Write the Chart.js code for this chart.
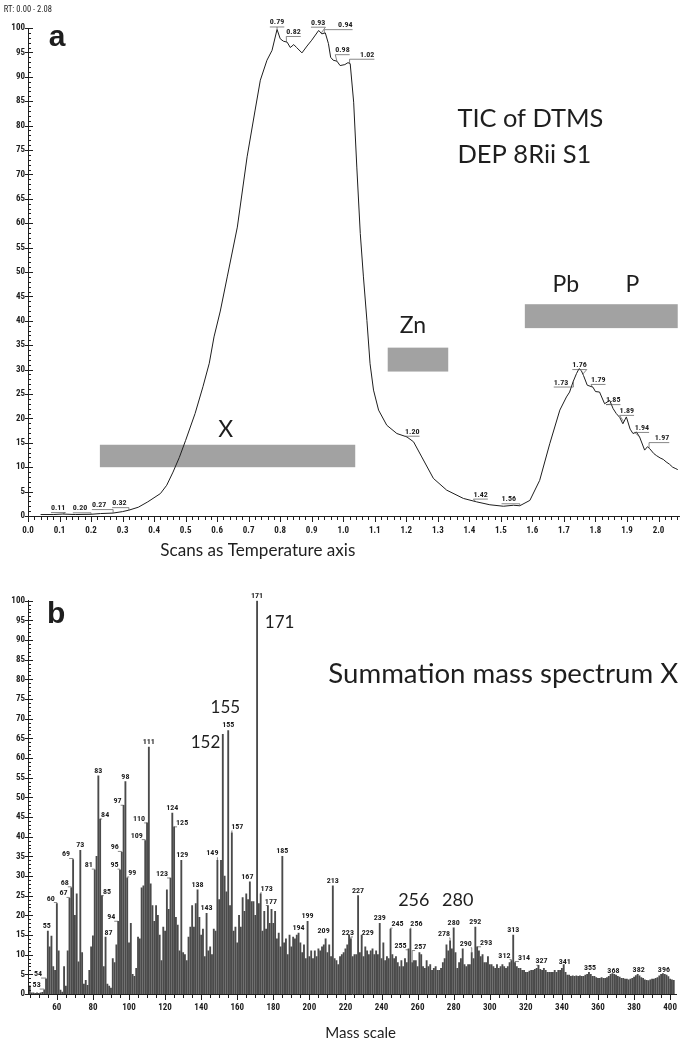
<!DOCTYPE html>
<html><head><meta charset="utf-8">
<script src="https://cdn.jsdelivr.net/npm/chart.js@4.4.1/dist/chart.umd.min.js"></script>
<style>
html,body{margin:0;padding:0;background:#fff;}
#wrap{position:relative;width:685px;height:1044px;overflow:hidden;background:#fff;}
canvas{position:absolute;left:0;}
</style>
</head><body>
<div id="wrap">
<canvas id="tic" width="685" height="565" style="top:0px"></canvas>
<canvas id="ms" width="685" height="479" style="top:565px"></canvas>
</div>
<script>
// ---------------- DATA: panel a (TIC) ----------------
const ticTime = [0.04,0.08,0.11,0.15,0.20,0.23,0.27,0.30,0.32,0.35,0.38,0.42,0.44,0.46,0.48,0.50,0.53,0.555,0.575,0.59,0.61,0.632,0.664,0.695,0.72,0.737,0.758,0.774,0.79,0.80,0.81,0.822,0.832,0.843,0.852,0.869,0.885,0.90,0.922,0.932,0.943,0.953,0.96,0.968,0.98,0.99,1.005,1.015,1.022,1.033,1.043,1.054,1.064,1.075,1.085,1.096,1.112,1.138,1.17,1.202,1.223,1.249,1.286,1.328,1.381,1.423,1.465,1.508,1.54,1.56,1.592,1.623,1.655,1.687,1.708,1.718,1.729,1.74,1.748,1.755,1.762,1.774,1.792,1.80,1.813,1.829,1.845,1.856,1.866,1.877,1.887,1.898,1.91,1.919,1.93,1.94,1.956,1.965,1.972,1.985,1.993,2.005,2.015,2.024,2.035,2.045,2.055,2.061];
const ticIntensity = [0.3,0.3,0.4,0.3,0.35,0.5,0.6,0.9,1.2,1.8,2.9,4.6,6.3,9.0,12.0,15.5,21.0,26.5,31.3,36.7,42.0,49.0,59.2,73.6,83.0,89.3,93.4,95.4,99.7,97.8,97.3,97.1,96.0,96.6,96.0,94.9,96.3,97.5,99.5,98.8,99.0,96.8,94.0,93.4,93.2,92.3,92.5,92.9,92.7,84.8,71.5,57.9,49.0,40.1,31.2,25.8,21.7,18.6,16.9,16.2,15.2,12.1,7.7,5.3,3.6,2.9,2.3,2.0,2.2,2.1,3.2,7.3,14.8,21.7,24.4,25.4,27.5,29.2,30.2,29.8,28.8,26.8,26.4,25.5,25.4,23.0,23.7,22.0,21.0,20.2,18.9,20.3,17.8,16.9,17.2,16.2,13.5,14.2,13.8,12.8,12.4,11.9,11.6,11.1,10.6,10.0,9.7,9.5];
const ticPeakLabels = ['0.11','0.20','0.27','0.32','0.79','0.82','0.93','0.94','0.98','1.02','1.20','1.42','1.56','1.73','1.76','1.79','1.85','1.89','1.94','1.97'];
const ticXTickLabels = ['0.0','0.1','0.2','0.3','0.4','0.5','0.6','0.7','0.8','0.9','1.0','1.1','1.2','1.3','1.4','1.5','1.6','1.7','1.8','1.9','2.0'];
const yTickLabels = ['0','5','10','15','20','25','30','35','40','45','50','55','60','65','70','75','80','85','90','95','100'];
const regionNames = ['X','Zn','Pb','P'];
const regionStart = [0.228,1.141,1.576];
const regionEnd   = [1.038,1.333,2.061];
const regionLow   = [10.0,29.6,38.5];
const regionHigh  = [14.6,34.5,43.4];

// ---------------- DATA: panel b (mass spectrum) ----------------
const firstMass = 45;
const intensity = [
 2.1,0.3,0.3,0.2,0.3,0.2,0.3,0.4,1.0,3.8,            // 45-54
 16.0,12.0,14.7,7.0,6.0,23.0,11.0,1.0,0.5,7.0,       // 55-64
 2.0,11.0,24.3,27.0,34.2,20.0,25.5,8.2,36.5,10.5,    // 65-74
 2.5,3.5,2.2,6.0,12.0,14.8,31.5,35.0,55.5,44.5,      // 75-84
 25.0,7.0,14.5,2.5,2.0,1.5,9.0,8.0,12.5,18.5,        // 85-94
 31.5,36.0,48.0,54.0,29.5,13.0,18.0,5.0,4.5,6.5,     // 95-104
 14.5,14.0,27.0,27.5,39.0,43.5,62.8,28.0,22.5,18.5,  // 105-114
 22.5,20.0,15.0,8.5,17.0,16.0,26.5,21.5,29.5,46.0,   // 115-124
 42.5,19.5,17.5,11.0,34.0,10.5,10.0,8.5,14.5,17.0,   // 125-134
 22.5,17.0,23.0,26.5,19.5,15.0,16.5,9.5,20.5,11.0,   // 135-144
 12.0,10.0,16.5,16.0,34.0,24.0,34.0,66.0,30.0,26.0,  // 145-154
 67.0,22.5,41.0,16.0,17.0,13.0,20.0,17.0,24.5,21.0,  // 155-164
 25.5,24.0,28.5,23.5,23.5,20.0,100,23.0,25.5,16.0,   // 165-174
 21.0,16.5,22.5,18.0,21.5,18.0,21.0,14.0,15.5,12.0,  // 175-184
 35.0,13.0,14.0,10.0,15.0,12.0,14.5,14.0,15.0,15.5,  // 185-194
 13.0,10.5,12.5,9.0,18.5,9.5,11.0,9.0,11.0,9.5,      // 195-204
 11.5,11.0,12.0,12.5,14.0,10.5,12.5,9.5,27.5,9.0,    // 205-214
 8.5,7.5,9.5,10.0,10.5,11.5,12.5,15.0,14.0,9.5,      // 215-224
 10.0,10.0,25.0,10.5,15.0,9.5,12.0,11.0,10.0,11.0,   // 225-234
 11.5,10.0,11.0,10.0,18.0,9.0,13.0,8.5,9.5,9.0,      // 235-244
 16.5,10.0,9.0,9.5,8.0,7.0,8.5,7.0,9.0,8.0,          // 245-254
 11.5,16.5,8.0,8.5,8.5,7.0,10.5,10.0,7.0,6.5,        // 255-264
 8.5,7.0,7.5,6.0,6.5,7.0,6.0,6.0,6.5,8.0,            // 265-274
 9.0,12.5,11.0,13.5,11.5,16.8,10.5,6.5,8.0,9.0,      // 275-284
 11.5,7.5,7.0,7.5,7.5,10.5,9.0,17.0,12.0,11.0,       // 285-294
 9.5,10.0,8.0,8.0,9.5,7.5,7.5,7.0,6.5,7.5,           // 295-304
 6.5,7.0,7.5,7.0,6.5,7.0,8.0,8.5,15.0,8.0,           // 305-314
 7.0,6.5,6.5,6.0,6.0,5.5,5.5,5.8,6.0,6.0,            // 315-324
 6.3,6.5,7.3,6.3,6.0,6.5,6.0,5.5,5.5,5.5,            // 325-334
 5.5,6.0,5.5,6.0,6.0,6.5,7.5,5.5,4.8,4.8,            // 335-344
 4.5,4.6,4.5,4.6,4.5,4.6,4.5,4.5,4.8,5.0,            // 345-354
 5.5,5.0,4.5,4.5,4.2,4.0,4.0,4.2,4.0,4.0,            // 355-364
 4.2,4.5,5.0,5.2,5.0,4.8,4.5,4.3,4.0,4.0,            // 365-374
 3.8,3.8,3.6,3.8,4.0,4.3,4.7,5.0,4.6,4.2,            // 375-384
 4.0,3.6,3.5,3.4,3.6,3.8,3.8,4.0,4.2,4.6,            // 385-394
 5.0,5.2,5.0,4.8,4.4,3.8,3.6,3.5                     // 395-402
];
const masses = intensity.map((_, i) => firstMass + i);
const msXTickLabels = ['60','80','100','120','140','160','180','200','220','240','260','280','300','320','340','360','380','400'];
const msPeakLabels = [53,54,55,60,67,68,69,73,81,83,84,85,87,94,95,96,97,98,99,109,110,111,123,124,125,129,138,143,149,155,157,167,171,173,177,185,194,199,209,213,223,227,229,239,245,255,256,257,278,280,290,292,293,312,313,314,327,341,355,368,382,396];
const msBigLabels = ['171','155','152','256','280'];

// ---------------- LAYOUT (text placement, not data) ----------------
const ticLabelNudge = [[-4.5,-6],[-11,-6],[-14,-8],[-9.5,-7],[0,-7],[7,-10],[-3,-10.5],[21,-8],[5.5,-11],[17.6,-8.6],[6,-5],[5,-7],[-11,-6.5],[-12.4,1.5],[-3.3,-9],[6,-7],[2,-4],[3,-11],[2.3,-9],[13,-10]];
const msLabelNudge = {53:[-7.6,0],54:[-8,0],55:[-1,0],60:[-6,0],67:[-6,0],68:[-6.5,0],69:[-7,0],81:[-6,0],84:[5,1],85:[5,1],87:[3,1],94:[-7,1],95:[-5.5,0],96:[-7,0],97:[-6,1],99:[5,0],109:[-8.5,0],110:[-8,1],123:[-8.5,1],125:[8,1],129:[1,0],149:[-5,-2],157:[5.5,-1],167:[-2.5,0],173:[6,0],177:[3,1],209:[-2,-3],223:[-3,-1],229:[6,3],245:[7,0],255:[-8,2],256:[6,0],257:[8,-11],278:[-6,-2],290:[-6,-4],293:[9,1],312:[-7,0],314:[9,0],327:[3,1],341:[1,2],355:[1,1],368:[1,2],382:[1,1],396:[1,1]};

const SMALL = "'Liberation Sans Narrow','Roboto Condensed','DejaVu Sans Condensed',Roboto,sans-serif";
const BIG = "Lato,'Open Sans',sans-serif";
const INK = '#1e1e1e';

function interpTic(t){
  for (let i=1;i<ticTime.length;i++){
    if (t<=ticTime[i]){ const f=(t-ticTime[i-1])/(ticTime[i]-ticTime[i-1]); return ticIntensity[i-1]+f*(ticIntensity[i]-ticIntensity[i-1]); }
  }
  return ticIntensity[ticIntensity.length-1];
}

function makeTicks(cfg){
  return { id:'minorTicks'+cfg.name, afterDraw(chart){
    const {ctx, chartArea:a} = chart; const x=chart.scales.x, y=chart.scales.y;
    ctx.save(); ctx.strokeStyle=INK; ctx.lineWidth=1;
    for (let i=0;i<=cfg.yCount;i++){
      const v=cfg.yMin+i*cfg.yStep; const py=Math.round(y.getPixelForValue(v))+0.5; const major=i%cfg.yMajor===0;
      ctx.beginPath(); ctx.moveTo(a.left-(major?3:0),py); ctx.lineTo(a.left+(major?5:3),py); ctx.stroke();
    }
    for (let i=0;i<=cfg.xCount;i++){
      const v=cfg.xMin+i*cfg.xStep; if (v>x.max+1e-9) break;
      const px=Math.round(x.getPixelForValue(v))+0.5; const major=cfg.xIsMajor(i);
      ctx.beginPath(); ctx.moveTo(px,a.bottom); ctx.lineTo(px,a.bottom+(major?6:4)); ctx.stroke();
    }
    ctx.restore();
  }};
}

function drawText(ctx, txt, px, py, font, align, base){
  ctx.font=font; ctx.textAlign=align||'left'; ctx.textBaseline=base||'alphabetic'; ctx.fillStyle=INK; ctx.fillText(txt,px,py);
}
// draw text scaled so that its width equals targetW pixels
function drawFitText(ctx, txt, px, py, family, targetW, align, base){
  ctx.font='100px '+family; const w=ctx.measureText(txt).width;
  const size=100*targetW/w;
  drawText(ctx, txt, px, py, size.toFixed(2)+'px '+family, align, base);
}

// ---------------- Panel a ----------------
const ticDecor = {
  id:'ticDecor',
  beforeDatasetsDraw(chart){
    const {ctx} = chart; const x=chart.scales.x, y=chart.scales.y;
    ctx.save(); ctx.fillStyle='#a2a2a2';
    for (let i=0;i<regionStart.length;i++){
      const x0=x.getPixelForValue(regionStart[i]), x1=x.getPixelForValue(regionEnd[i]);
      const y0=y.getPixelForValue(regionHigh[i]), y1=y.getPixelForValue(regionLow[i]);
      ctx.fillRect(x0,y0,x1-x0,y1-y0);
    }
    ctx.restore();
  },
  afterDraw(chart){
    const {ctx} = chart; const x=chart.scales.x, y=chart.scales.y;
    const X=v=>x.getPixelForValue(v), Y=v=>y.getPixelForValue(v);
    ctx.save();
    drawText(ctx,'RT: 0.00 - 2.08',X(-0.077),Y(103.3),"8.5px "+SMALL);
    drawText(ctx,'a',X(0.0656),Y(96.3),"bold 30px 'Liberation Sans',Arial,sans-serif");
    drawFitText(ctx,'TIC of DTMS',X(1.362),Y(79.7),BIG,146);
    drawFitText(ctx,'DEP 8Rii S1',X(1.362),Y(72.3),BIG,134);
    const rl=[[0.627,16.25],[1.221,37.4],[1.706,46.0],[1.917,46.0]];
    regionNames.forEach((n,i)=>drawText(ctx,n,X(rl[i][0]),Y(rl[i][1]),"23px "+BIG,'center'));
    drawFitText(ctx,'Scans as Temperature axis',X(0.729),Y(-7.0),BIG,195,'center','middle');
    // peak labels
    ctx.font="bold 8px "+SMALL; ctx.textAlign='center'; ctx.textBaseline='middle';
    ctx.strokeStyle='#555'; ctx.lineWidth=0.7;
    ticPeakLabels.forEach((lab,i)=>{
      const t=parseFloat(lab), ax=X(t), ay=Y(interpTic(t));
      const lx=ax+ticLabelNudge[i][0], ly=ay+ticLabelNudge[i][1];
      ctx.fillStyle=INK; ctx.fillText(lab,lx,ly);
      const w=ctx.measureText(lab).width, uy=ly+4.5;
      const l=Math.min(lx-w/2,ax), r=Math.max(lx+w/2,ax);
      ctx.beginPath(); ctx.moveTo(l,uy); ctx.lineTo(r,uy);
      const ex = ax<lx ? l : (ax>lx ? r : lx);
      ctx.moveTo(ex,uy); ctx.lineTo(ax,ay); ctx.stroke();
    });
    ctx.restore();
  }
};

const tickFont = {family:SMALL,size:9,weight:'bold'};
new Chart(document.getElementById('tic'), {
  type:'line',
  data:{datasets:[{data:ticTime.map((t,i)=>({x:t,y:ticIntensity[i]})),borderColor:INK,borderWidth:1,pointRadius:0,tension:0,fill:false}]},
  options:{
    responsive:false, animation:false, devicePixelRatio:1,
    layout:{padding:{top:28,right:6,left:0,bottom:0}},
    plugins:{legend:{display:false},tooltip:{enabled:false},title:{display:false}},
    scales:{
      x:{type:'linear',min:0,max:2.065,afterFit(s){s.height=49;},
         afterBuildTicks(s){s.ticks=ticXTickLabels.map(l=>({value:parseFloat(l)}));},
         grid:{display:false,drawTicks:false},border:{display:true,color:INK,width:1},
         ticks:{autoSkip:false,maxRotation:0,padding:9,color:INK,font:tickFont,callback:(v,i)=>ticXTickLabels[i]}},
      y:{min:0,max:100,afterFit(s){s.width=28;},
         afterBuildTicks(s){s.ticks=yTickLabels.map(l=>({value:Number(l)}));},
         grid:{display:false,drawTicks:false},border:{display:true,color:INK,width:1},
         ticks:{autoSkip:false,padding:3,color:INK,font:tickFont,callback:(v,i)=>yTickLabels[i]}}
    }
  },
  plugins:[ticDecor, makeTicks({name:'a',yMin:0,yStep:1,yCount:100,yMajor:5,xMin:0,xStep:0.02,xCount:103,xIsMajor:i=>i%5===0})]
});

// ---------------- Panel b ----------------
const msDecor = {
  id:'msDecor',
  afterDraw(chart){
    const {ctx} = chart; const x=chart.scales.x, y=chart.scales.y;
    const X=v=>x.getPixelForValue(v), Y=v=>y.getPixelForValue(v);
    ctx.save();
    drawText(ctx,'b',X(54.5),Y(94.3),"bold 30px 'Liberation Sans',Arial,sans-serif");
    drawFitText(ctx,'Summation mass spectrum X',X(210.5),Y(79.1),BIG,350);
    const bl=[[183.5,93.1],[153.4,71.4],[142.4,62.5],[257.9,22.4],[282.2,22.4]];
    msBigLabels.forEach((n,i)=>drawText(ctx,n,X(bl[i][0]),Y(bl[i][1]),(i<3?"17px ":"18px ")+BIG,'center'));
    drawFitText(ctx,'Mass scale',X(228.4),Y(-9.9),BIG,71,'center','middle');
    ctx.font="bold 8px "+SMALL; ctx.textAlign='center'; ctx.textBaseline='middle';
    ctx.strokeStyle='#555'; ctx.lineWidth=0.7;
    msPeakLabels.forEach(m=>{
      const v=intensity[m-firstMass]; const bx=X(m), by=Y(v);
      const nd=msLabelNudge[m]||[0,0];
      const lx=bx+nd[0], ly=by-5+nd[1];
      ctx.fillStyle=INK; ctx.fillText(String(m),lx,ly);
      if (Math.abs(nd[0])>=3){
        const w=ctx.measureText(String(m)).width, uy=ly+4;
        const ex = nd[0]<0 ? lx+w/2-1 : lx-w/2+1;
        ctx.beginPath(); ctx.moveTo(ex,uy); ctx.lineTo(bx,uy); ctx.lineTo(bx,Math.max(uy,by)); ctx.stroke();
      }
    });
    ctx.restore();
  }
};

new Chart(document.getElementById('ms'), {
  type:'bar',
  data:{datasets:[{data:masses.map((m,i)=>({x:m,y:intensity[i]})),backgroundColor:'#4a4a4a',borderWidth:0,barThickness:1.2}]},
  options:{
    responsive:false, animation:false, devicePixelRatio:1,
    layout:{padding:{top:35.7,right:4,left:0,bottom:0}},
    plugins:{legend:{display:false},tooltip:{enabled:false}},
    scales:{
      x:{type:'linear',min:44,max:403.5,offset:false,afterFit(s){s.height=50;},
         afterBuildTicks(s){s.ticks=msXTickLabels.map(l=>({value:Number(l)}));},
         grid:{display:false,drawTicks:false,offset:false},border:{display:true,color:INK,width:1},
         ticks:{autoSkip:false,maxRotation:0,padding:8,color:INK,font:tickFont,callback:(v,i)=>msXTickLabels[i]}},
      y:{min:0,max:100,afterFit(s){s.width=28;},
         afterBuildTicks(s){s.ticks=yTickLabels.map(l=>({value:Number(l)}));},
         grid:{display:false,drawTicks:false},border:{display:true,color:INK,width:1},
         ticks:{autoSkip:false,padding:3,color:INK,font:tickFont,callback:(v,i)=>yTickLabels[i]}}
    }
  },
  plugins:[msDecor, makeTicks({name:'b',yMin:0,yStep:1,yCount:100,yMajor:5,xMin:45,xStep:5,xCount:71,xIsMajor:i=>((45+5*i)%20===0)})]
});
</script>
</body></html>
